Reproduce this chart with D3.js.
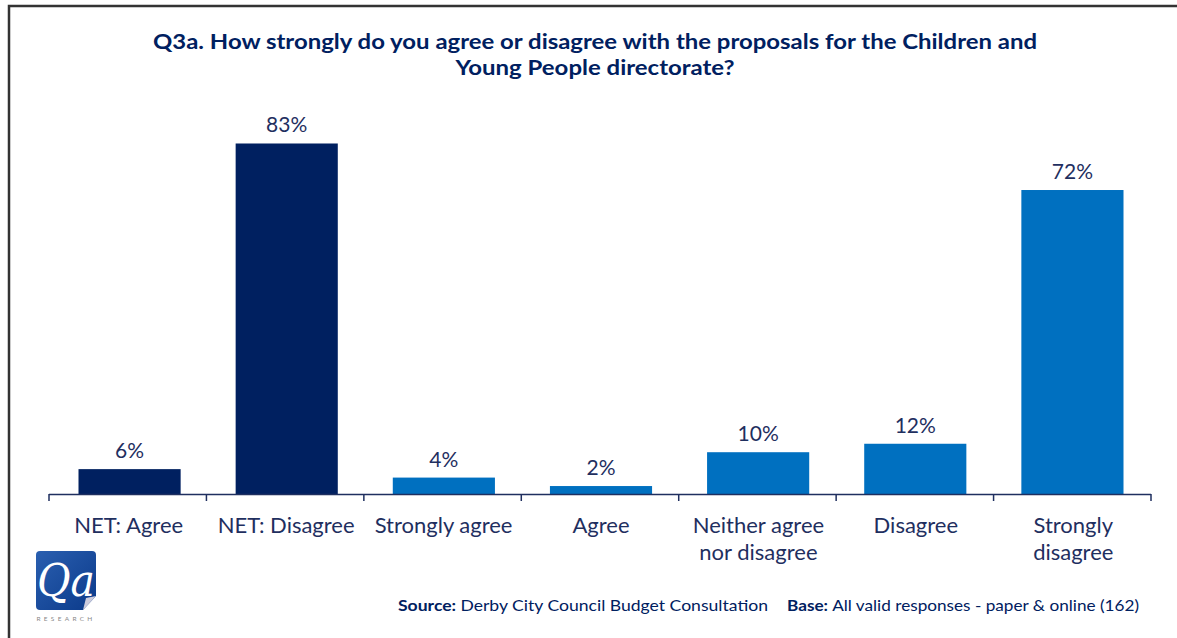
<!DOCTYPE html>
<html><head><meta charset="utf-8">
<script src="https://cdn.jsdelivr.net/npm/d3@7"></script>
<style>body{margin:0;background:#fff;} svg{display:block;font-family:Lato,"Open Sans",sans-serif;}</style>
</head><body>
<script>
const categories = ["NET: Agree","NET: Disagree","Strongly agree","Agree","Neither agree nor disagree","Disagree","Strongly disagree"];
const categoryLines = [["NET: Agree"],["NET: Disagree"],["Strongly agree"],["Agree"],["Neither agree","nor disagree"],["Disagree"],["Strongly","disagree"]];
const values = [6,83,4,2,10,12,72];
const isNet = [true,true,false,false,false,false,false];
const titleLines = ["Q3a. How strongly do you agree or disagree with the proposals for the Children and","Young People directorate?"];

const W=1177,H=638;
const svg=d3.select("body").append("svg").attr("width",W).attr("height",H);
const navy="#002060", blue="#0070C0", text="#1F2F5F";

// border
svg.append("path").attr("d",`M9,${H+5} L9,6 L${W+5},6`).attr("fill","none").attr("stroke","#333").attr("stroke-width",2.5);

const x=d3.scaleBand().domain(categories).range([51,1151]).paddingInner(0.35).paddingOuter(0.175);
const y=d3.scaleLinear().domain([0,100]).range([494.5,71.6]);

// title
const titleW=[884,279];
titleLines.forEach((l,i)=>{
  svg.append("text").attr("x",595).attr("y",49+i*26).attr("text-anchor","middle").attr("fill",navy)
    .attr("font-weight","bold").attr("font-size",21)
    .attr("textLength",titleW[i]).attr("lengthAdjust","spacingAndGlyphs").text(l);
});

// bars
svg.selectAll("rect.bar").data(values).join("rect").attr("class","bar")
  .attr("x",(d,i)=>x(categories[i])).attr("width",x.bandwidth())
  .attr("y",d=>y(d)).attr("height",d=>y(0)-y(d))
  .attr("fill",(d,i)=>isNet[i]?navy:blue);

// value labels
svg.selectAll("text.val").data(values).join("text").attr("class","val")
  .attr("x",(d,i)=>x(categories[i])+x.bandwidth()/2).attr("y",d=>y(d)-11)
  .attr("text-anchor","middle").attr("font-size",21).attr("fill",text).text(d=>d+"%");

// axis
const step=(1151-49)/categories.length;
const ax=svg.append("g");
ax.append("line").attr("x1",49).attr("x2",1151).attr("y1",494.5).attr("y2",494.5).attr("stroke",text).attr("stroke-width",1.5);
d3.range(categories.length+1).forEach(i=>{
  const xx=49+i*step;
  ax.append("line").attr("x1",xx).attr("x2",xx).attr("y1",494).attr("y2",501).attr("stroke",text).attr("stroke-width",1.5);
});
// category labels
categories.forEach((c,i)=>{
  const cx=49+(i+0.5)*step+1;
  const t=svg.append("text").attr("text-anchor","middle").attr("font-size",22).attr("fill",text)
    .attr("x",cx).attr("y",533);
  categoryLines[i].forEach((l,j)=>t.append("tspan").attr("x",cx).attr("dy",j?27:0).text(l));
});

// logo
const lg=svg.append("g");
const grad=svg.append("defs").append("linearGradient").attr("id","lg").attr("x1",0).attr("y1",0).attr("x2",1).attr("y2",1);
grad.append("stop").attr("offset",0).attr("stop-color","#2a5fb0");
grad.append("stop").attr("offset",1).attr("stop-color","#0b3a8a");
lg.append("path").attr("d","M40,551 L92,551 Q96,551 96,555 L96,596 L83,610 L40,610 Q36,610 36,606 L36,555 Q36,551 40,551 Z").attr("fill","url(#lg)");
lg.append("path").attr("d","M96,596 L83,610 L86,598 Z").attr("fill","#ccd");
lg.append("text").attr("x",37).attr("y",596).attr("font-family","'DejaVu Serif',serif").attr("font-style","italic").attr("font-size",44).attr("fill","#fff").attr("textLength",58).attr("lengthAdjust","spacingAndGlyphs").text("Qa");
lg.append("text").attr("x",66).attr("y",621).attr("text-anchor","middle").attr("font-size",6.5).attr("letter-spacing",3.3).attr("fill","#888").text("RESEARCH");

// source
const s1=svg.append("text").attr("x",398).attr("y",611).attr("font-size",16).attr("fill",navy)
  .attr("textLength",370).attr("lengthAdjust","spacingAndGlyphs");
s1.append("tspan").attr("font-weight","bold").text("Source: ");
s1.append("tspan").text("Derby City Council Budget Consultation");
const s2=svg.append("text").attr("x",787).attr("y",611).attr("font-size",16).attr("fill",navy)
  .attr("textLength",352).attr("lengthAdjust","spacingAndGlyphs");
s2.append("tspan").attr("font-weight","bold").text("Base: ");
s2.append("tspan").text("All valid responses - paper & online (162)");
</script>
</body></html>
